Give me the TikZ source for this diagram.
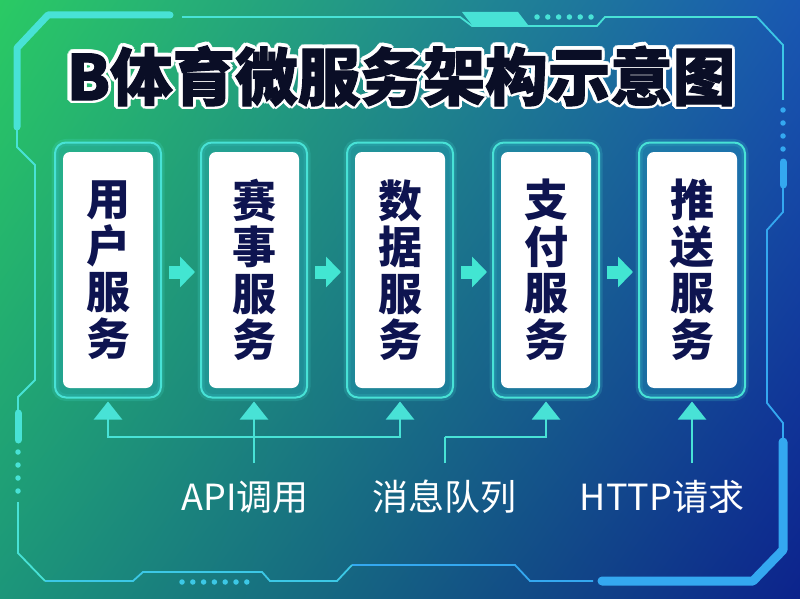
\documentclass[tikz,border=0pt]{standalone}
\usepackage{fontspec}
\newfontfamily\cjk{Noto Sans CJK SC}
\newfontfamily\titleblk{Noto Sans CJK SC}[BoldFeatures={FakeBold=1.6}]
\usetikzlibrary{arrows.meta,calc,shadings}
\definecolor{bgUL}{RGB}{42,202,100}
\definecolor{bgUR}{RGB}{25,88,178}
\definecolor{bgLL}{RGB}{28,150,122}
\definecolor{bgLR}{RGB}{12,35,140}
\definecolor{cyanline}{RGB}{72,226,214}
\definecolor{blueline}{RGB}{52,168,240}
\definecolor{midline}{RGB}{60,200,230}
\definecolor{navy}{RGB}{14,20,80}
\definecolor{titleink}{RGB}{10,14,38}
\definecolor{arrowc}{RGB}{66,230,210}
\definecolor{boxfill}{RGB}{40,170,190}
\tikzset{
  thinline/.style={line width=1.8pt, line join=miter},
  thickline/.style={line width=7pt, line cap=round, line join=round},
  dotc/.style={circle, inner sep=0pt, minimum size=5.5pt},
  outerbox/.style={draw=cyanline, line width=2pt, rounded corners=11pt,
    minimum width=106pt, minimum height=255pt, inner sep=0pt,
    fill=boxfill, fill opacity=0.35, draw opacity=1,
    preaction={draw=cyanline, line width=7pt, draw opacity=0.18}},
  innerbox/.style={fill=white, rounded corners=7pt, minimum width=90pt,
    minimum height=236pt, inner sep=0pt, text=navy, align=center,
    font=\cjk\bfseries\fontsize{44}{46.5}\selectfont},
  flowarrow/.style={line width=13pt, arrowc, -{Triangle[width=30pt,length=15pt]}},
  conn/.style={line width=2.2pt, cyanline, -{Triangle[width=28pt,length=18pt]}},
  connplain/.style={line width=2.2pt, cyanline},
  lbl/.style={text=white, font=\cjk\fontsize{36}{40}\selectfont, inner sep=0pt},
  titleout/.style={font=\cjk\bfseries\fontsize{62.5}{62.5}\selectfont, inner sep=0pt, text=white},
  titletext/.style={font=\titleblk\bfseries\fontsize{62.5}{62.5}\selectfont, inner sep=0pt, text=titleink},
}
\begin{document}
\begin{tikzpicture}[x=1pt,y=-1pt]
\useasboundingbox (0,0) rectangle (800,599);
\shade[upper left=bgUL, upper right=bgUR, lower left=bgLL, lower right=bgLR] (0,0) rectangle (800,599);

% ---- frame: top / left (cyan)
\draw[thickline, cyanline] (17,127) -- (17,48) -- (48,15) -- (170,15);
\draw[thinline, cyanline] (182,17) -- (460,17) -- (472,26) -- (597,26) -- (605,17) -- (757,17);
\draw[thinline, midline] (757,17) -- (783,45) -- (783,100);
\fill[cyanline] (462,12) -- (518,12) -- (528,25) -- (472,25) -- cycle;
\foreach \i in {0,...,5} \node[dotc, fill=cyanline] (td\i) at (537+10.8*\i,17) {};
% ---- frame: right (blue)
\foreach \i in {0,...,3} \node[dotc, fill=blueline] (rd\i) at (783,110+13*\i) {};
\draw[thickline, blueline] (783,162) -- (783,185);
\draw[thinline, blueline] (783,185) -- (783,212) -- (767,230) -- (767,403) -- (783,423) -- (783,442);
\draw[line width=9pt, line cap=round, line join=round, blueline] (783,442) -- (783,550) -- (753,581) -- (602,581);
% ---- frame: bottom
\draw[thinline, blueline] (593,581) -- (530,581) -- (515,565) -- (352,565);
\draw[thinline, midline] (352,565) -- (337,581) -- (270,581) -- (262,572) -- (143,572) -- (133,581) -- (45,581);
\draw[thinline, cyanline] (45,581) -- (18,553) -- (18,502);
\foreach \i in {0,...,6} \node[dotc, fill=midline] (bd\i) at (182+10.8*\i,582) {};
% ---- frame: left lower
\foreach \i in {0,...,3} \node[dotc, fill=cyanline] (ld\i) at (18,452+13*\i) {};
\draw[thickline, cyanline] (18,413) -- (18,440);
\draw[thinline, cyanline] (17,127) -- (17,147) -- (35,165) -- (35,380) -- (18,397) -- (18,413);

% ---- title (white outline copies under dark text)
\coordinate (tc) at (401,76);
\foreach \a in {0,22.5,...,337.5}
  \node[titleout] (tout\a) at ($(tc)+(\a:3.8)$) {B体育微服务架构示意图};
\node[titletext] (title) at (tc) {B体育微服务架构示意图};

% ---- service boxes
\foreach \n/\x in {1/108,2/254,3/400,4/546,5/692}
  \node[outerbox] (f\n) at (\x,270) {};
\node[innerbox] (b1) at (f1) {用\\户\\服\\务};
\node[innerbox] (b2) at (f2) {赛\\事\\服\\务};
\node[innerbox] (b3) at (f3) {数\\据\\服\\务};
\node[innerbox] (b4) at (f4) {支\\付\\服\\务};
\node[innerbox] (b5) at (f5) {推\\送\\服\\务};

% ---- flow arrows between boxes
\foreach \a/\b in {1/2,2/3,3/4,4/5}
  \draw[flowarrow] ($(f\a.east)+(7,2)$) -- ($(f\b.west)+(-5,2)$);

% ---- labels
\node[lbl] (lapi) at (245,497) {API调用};
\node[lbl] (lmq) at (444,497) {消息队列};
\node[lbl] (lhttp) at (662,497) {HTTP请求};

% ---- connectors
\coordinate (a0) at (254,463);
\coordinate (aj) at (254,437);
\draw[conn] (a0) -- ($(f2.south)+(0,3)$);
\draw[conn] (aj) -| ($(f1.south)+(0,3)$);
\draw[conn] (aj) -| ($(f3.south)+(0,3)$);
\coordinate (m0) at (445,463);
\coordinate (mj) at (445,437);
\draw[connplain] (m0) -- (mj);
\draw[conn] (mj) -| ($(f4.south)+(0,3)$);
\coordinate (h0) at (692,463);
\draw[conn] (h0) -- ($(f5.south)+(0,3)$);
\end{tikzpicture}
\end{document}
